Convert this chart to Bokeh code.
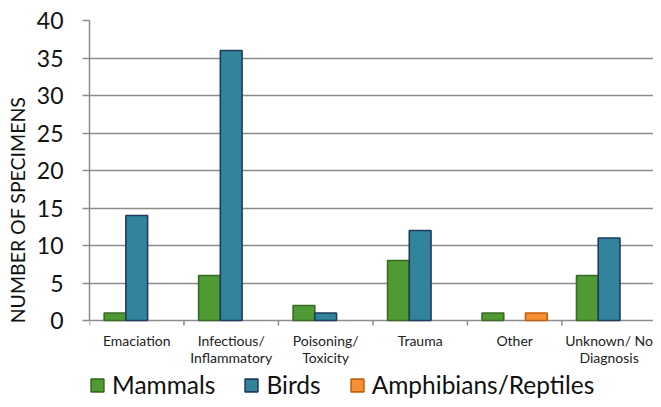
from bokeh.plotting import figure
from bokeh.models import (FixedTicker, Legend, LegendItem, Label, ColumnDataSource, Range1d)
from bokeh.core.properties import value
from bokeh.embed import file_html
from bokeh.resources import INLINE

categories = ["Emaciation", "Infectious/\nInflammatory", "Poisoning/\nToxicity", "Trauma", "Other", "Unknown/ No\nDiagnosis"]
mammals = [1, 6, 2, 8, 1, 6]
birds = [14, 36, 1, 12, 0, 11]
amphibians = [0, 0, 0, 0, 1, 0]
series_names = ["Mammals", "Birds", "Amphibians/Reptiles"]
y_ticks = [0, 5, 10, 15, 20, 25, 30, 35, 40]

FONT = "Lato"
fills = ["#4f9a32", "#31849b", "#f79035"]
lines = ["#3b6a24", "#1f3a5f", "#c4600f"]
GRID = "#8c8c8c"

W, H = 653, 399
TOP, LEFT = 20, 89
ymax = 40
px_per_unit = 300 / ymax
ymin = ymax - (H - TOP) / px_per_unit
n = len(categories)

p = figure(width=W, height=H, output_backend="svg", toolbar_location=None,
           x_range=Range1d(0, n - 0.03), y_range=Range1d(ymin, ymax), x_axis_location=None,
           min_border_left=LEFT, min_border_right=0, min_border_top=TOP, min_border_bottom=0)
p.outline_line_color = None
p.background_fill_color = "white"
p.border_fill_color = "white"

bw = 0.23
offsets = [-bw, 0.0, bw]
renderers = []
for k, vals in enumerate([mammals, birds, amphibians]):
    xs = [i + 0.5 + offsets[k] for i, v in enumerate(vals) if v > 0]
    tops = [v for v in vals if v > 0]
    src = ColumnDataSource(dict(x=xs, top=tops))
    r = p.vbar(x="x", top="top", width=bw, bottom=0, source=src,
               fill_color=fills[k], line_color=lines[k], line_width=1.6)
    renderers.append(r)

# y axis
yax = p.yaxis[0]
yax.bounds = (0, ymax)
yax.ticker = FixedTicker(ticks=y_ticks, minor_ticks=[])
yax.major_tick_out = 7
yax.major_tick_in = 0
yax.axis_line_color = GRID
yax.axis_line_width = 1.5
yax.major_tick_line_color = GRID
yax.major_tick_line_width = 1.5
yax.major_label_text_font = FONT
yax.major_label_text_font_size = "23px"
yax.major_label_text_color = "#111111"
yax.major_label_standoff = 19
yax.axis_label = "NUMBER OF SPECIMENS"
yax.axis_label_text_font = FONT
yax.axis_label_text_font_size = "19.5px"
yax.axis_label_text_font_style = "normal"
yax.axis_label_text_color = "#111111"
yax.axis_label_standoff = 5

p.xgrid.visible = False
p.ygrid.ticker = FixedTicker(ticks=y_ticks)
p.ygrid.grid_line_color = GRID
p.ygrid.grid_line_width = 1.5

# category boundary ticks below the baseline
tick_len = 5 / px_per_unit
bx = list(range(n + 1))
p.segment(x0=bx, y0=[0] * len(bx), x1=bx, y1=[-tick_len] * len(bx), line_color=GRID, line_width=1.5)

# category labels
p.text(x=[i + 0.5 for i in range(n)], y=[-11 / px_per_unit] * n, text=categories,
       text_font=value(FONT), text_font_size="14px", text_color="#222222",
       text_align="center", text_baseline="top", text_line_height=1.05)

legend = Legend(items=[LegendItem(label=series_names[k], renderers=[renderers[k]]) for k in range(3)],
                orientation="horizontal", location=(0, 0),
                label_text_font=FONT, label_text_font_size="24.5px", label_text_color="#111111",
                glyph_width=16, glyph_height=16, label_standoff=7, spacing=28,
                padding=0, margin=0, border_line_color=None, background_fill_alpha=0)
p.add_layout(legend, "center")

title_y = ymax + 19 / px_per_unit
t1 = Label(x=-90, x_units="screen", y=title_y, text="CAUSE", text_font=FONT,
           text_font_size="46px", text_font_style="bold", text_color="#179bb7", text_baseline="alphabetic")
t2 = Label(x=58, x_units="screen", y=title_y, text="of death", text_font=FONT,
           text_font_size="46px", text_color="#179bb7", text_baseline="alphabetic")
p.add_layout(t1)
p.add_layout(t2)

open("out.html", "w").write(file_html(p, INLINE))
